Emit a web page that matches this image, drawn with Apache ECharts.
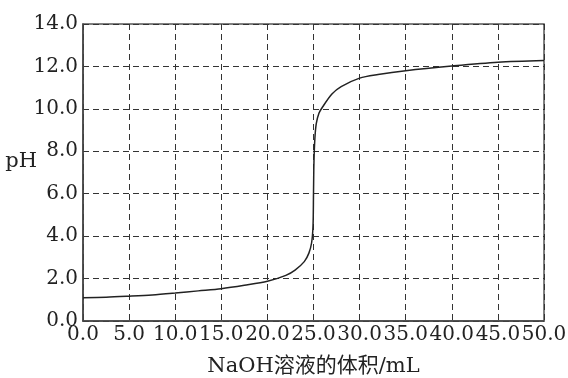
<!DOCTYPE html>
<html>
<head>
<meta charset="utf-8">
<script src="https://cdn.jsdelivr.net/npm/echarts@6/dist/echarts.min.js"></script>
<style>html,body{margin:0;padding:0;background:#fff;}#c{width:568px;height:378px;}</style>
</head>
<body>
<div id="c"></div>
<script>
var volume = [0, 2.5, 5, 7.5, 10, 12.5, 15, 17.5, 20, 22, 23, 24, 24.5, 24.8, 24.95, 25.0, 25.05, 25.15, 25.3, 25.6, 26, 27, 28, 30, 32, 35, 40, 45, 50];
var pH = [1.10, 1.12, 1.17, 1.23, 1.32, 1.42, 1.52, 1.68, 1.87, 2.15, 2.4, 2.8, 3.2, 3.7, 4.5, 6.0, 7.5, 8.6, 9.3, 9.8, 10.1, 10.7, 11.05, 11.45, 11.62, 11.8, 12.02, 12.2, 12.28];
var xName = 'NaOH溶液的体积/mL';
var yName = 'pH';

var data = volume.map(function (v, i) { return [v, pH[i]]; });
var serif = '"DejaVu Serif", "Liberation Serif", "Noto Sans CJK SC", serif';
var gridLine = { show: true, lineStyle: { color: '#333', type: [6, 4], width: 1 } };

var chart = echarts.init(document.getElementById('c'), null, { renderer: 'canvas' });
chart.setOption({
  animation: false,
  backgroundColor: '#fff',
  grid: { left: 83, right: 24, top: 24, bottom: 57, show: true, borderColor: '#555', borderWidth: 1.5, containLabel: false, outerBoundsMode: 'none' },
  xAxis: {
    type: 'value', min: 0, max: 50, interval: 5,
    name: xName, nameLocation: 'middle', nameGap: 35, nameMoveOverlap: false,
    nameTextStyle: { fontFamily: serif, fontSize: 21, color: '#222' },
    axisLine: { show: true, lineStyle: { color: '#444', width: 1.5 } },
    axisTick: { show: false },
    axisLabel: { fontFamily: serif, fontSize: 20, color: '#222', margin: 4, formatter: function (v) { return v.toFixed(1); } },
    splitLine: gridLine
  },
  yAxis: {
    type: 'value', min: 0, max: 14, interval: 2,
    name: yName, nameLocation: 'middle', nameRotate: 0, nameGap: 46, nameMoveOverlap: false,
    nameTextStyle: { fontFamily: serif, fontSize: 21, color: '#222', verticalAlign: 'bottom' },
    axisLine: { show: true, lineStyle: { color: '#444', width: 1.5 } },
    axisTick: { show: false },
    axisLabel: { fontFamily: serif, fontSize: 20, color: '#222', margin: 5, formatter: function (v) { return v.toFixed(1); } },
    splitLine: gridLine
  },
  series: [{
    type: 'line', data: data, showSymbol: false, smooth: 0.3,
    lineStyle: { color: '#222', width: 1.5 }
  }]
});
</script>
</body>
</html>
